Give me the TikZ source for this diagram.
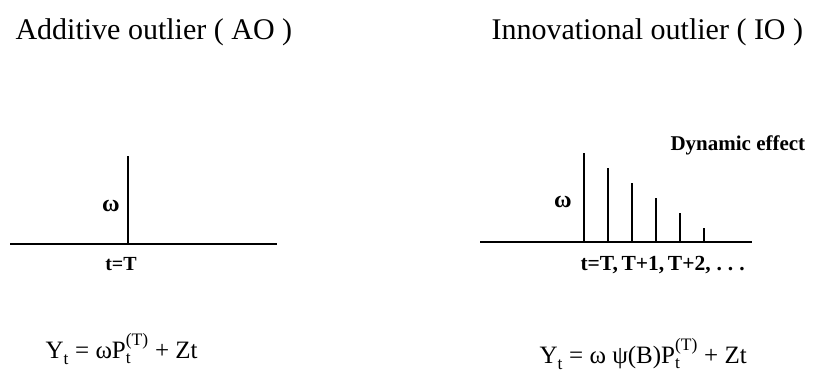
\documentclass[tikz,border=0pt]{standalone}
\usepackage{fontspec}
\usepackage{amsmath}
\setmainfont{Liberation Serif}
\newcommand{\sbsp}[2]{\ensuremath{_{\text{#1}}^{\text{#2}}}}
\begin{document}
\begin{tikzpicture}[x=1pt,y=-1pt,
  title/.style={anchor=base west,font=\fontsize{30}{34}\selectfont},
  lab/.style={font=\fontsize{20}{22}\selectfont\bfseries},
  eqn/.style={anchor=base west,font=\fontsize{25}{28}\selectfont}]
\useasboundingbox (0,0) rectangle (817,381);
% additive outlier
\node[title] (ttlAO) at (12,39) {Additive outlier ( AO )};
\coordinate (AOa) at (10,244);
\coordinate (AOb) at (277,244);
\coordinate (AOt) at (128,244);
\coordinate (AOp) at (128,156);
\draw[line width=1.5pt] (AOa)--(AOb);
\draw[line width=1.5pt] (AOt)--(AOp);
\node[lab,font=\fontsize{24}{26}\selectfont\bfseries] (wAO) at (111,206) {ω};
\node[lab,anchor=base] (tAO) at (121,270) {t=T};
\node[eqn] (eqAO) at (42,358) {Y\sbsp{t}{} = ωP\sbsp{t}{(T)} + Zt};
% innovational outlier
\node[title] (ttlIO) at (488,39) {Innovational outlier ( IO )};
\coordinate (IOa) at (480,242);
\coordinate (IOb) at (752,242);
\draw[line width=1.5pt] (IOa)--(IOb);
\foreach \k in {0,...,5} {
  \coordinate (IOt\k) at (584+24*\k,242);
  \coordinate (IOp\k) at (584+24*\k,153+15*\k);
  \draw[line width=1.5pt] (IOt\k)--(IOp\k);
}
\node[lab,font=\fontsize{24}{26}\selectfont\bfseries] (wIO) at (563,202) {ω};
\node[lab,anchor=base west,font=\fontsize{21.5}{24}\selectfont\bfseries] (tIO) at (577,270) {t=T,\,T+1,\,T+2,\;.\;.\;.};
\node[lab,anchor=base west,font=\fontsize{21}{24}\selectfont\bfseries] (dyn) at (667,150) {Dynamic effect};
\node[eqn] (eqIO) at (536,363) {Y\sbsp{t}{} = ω ψ(B)P\sbsp{t}{(T)} + Zt};
\end{tikzpicture}
\end{document}
